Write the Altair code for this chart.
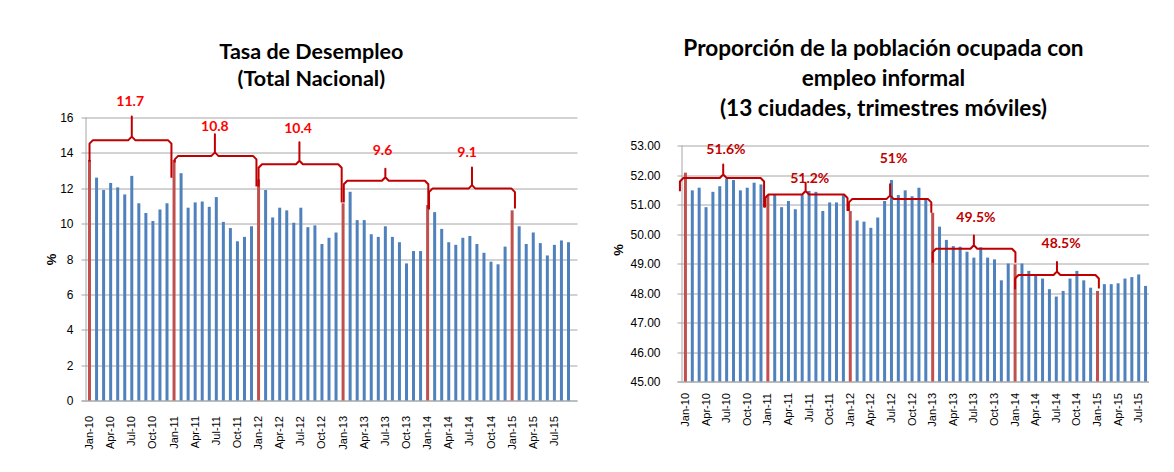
import json
import altair as alt
import pandas as pd

# ---------------- data ----------------
tick_labels = ["Jan-10", "Apr-10", "Jul-10", "Oct-10", "Jan-11", "Apr-11", "Jul-11", "Oct-11",
               "Jan-12", "Apr-12", "Jul-12", "Oct-12", "Jan-13", "Apr-13", "Jul-13", "Oct-13",
               "Jan-14", "Apr-14", "Jul-14", "Oct-14", "Jan-15", "Apr-15", "Jul-15"]

# Tasa de desempleo, monthly Jan-10 .. Sep-15
desempleo = [13.6, 12.6, 11.9, 12.3, 12.05, 11.65, 12.7, 11.15, 10.6, 10.15, 10.8, 11.15,
             13.6, 12.85, 10.9, 11.2, 11.25, 10.95, 11.5, 10.1, 9.75, 9.0, 9.25, 9.85,
             12.5, 11.9, 10.35, 10.9, 10.75, 10.05, 10.9, 9.8, 9.9, 8.85, 9.2, 9.5,
             11.15, 11.8, 10.2, 10.2, 9.4, 9.25, 9.85, 9.25, 8.95, 7.75, 8.45, 8.45,
             11.05, 10.65, 9.7, 8.95, 8.8, 9.2, 9.3, 8.85, 8.35, 7.85, 7.7, 8.7,
             10.75, 9.85, 8.85, 9.5, 8.9, 8.2, 8.8, 9.05, 8.95]

# Proporción informal, monthly (trimestres móviles) Jan-10 .. Aug-15
informal = [52.08, 51.48, 51.57, 50.91, 51.43, 51.62, 51.87, 51.83, 51.48, 51.57, 51.74, 51.68,
            51.32, 51.34, 50.91, 51.12, 50.84, 51.32, 51.46, 51.43, 50.78, 51.07, 51.07, 51.32,
            50.78, 50.46, 50.42, 50.21, 50.56, 51.12, 51.83, 51.32, 51.48, 51.28, 51.57, 51.17,
            50.72, 50.25, 49.80, 49.59, 49.57, 49.40, 49.20, 49.55, 49.20, 49.14, 48.43, 49.00,
            48.97, 49.00, 48.75, 48.58, 48.49, 48.13, 47.88, 48.07, 48.49, 48.75, 48.43, 48.18,
            48.07, 48.30, 48.30, 48.33, 48.49, 48.54, 48.63, 48.24]

# yearly-average braces (left chart)
des_brk_text = ["11.7", "10.8", "10.4", "9.6", "9.1"]
des_brk_x0 = [0.0, 12.1, 24.0, 36.1, 48.2]
des_brk_x1 = [11.63, 23.7, 35.8, 48.1, 60.4]
des_brk_xpeak = [6.0, 17.8, 29.8, 42.0, 54.3]
des_brk_level = [14.72, 13.83, 13.36, 12.42, 11.98]
des_brk_peak = [16.05, 15.05, 14.6, 13.1, 13.18]
des_brk_low0 = [13.5, 13.45, 12.1, 11.2, 10.8]
des_brk_low1 = [12.6, 12.1, 11.2, 10.85, 10.85]
des_lbl_x = [5.77, 17.8, 29.6, 41.6, 53.6]
des_lbl_y = [16.87, 15.49, 15.34, 14.11, 14.02]

# yearly-average braces (right chart)
inf_brk_text = ["51.6%", "51.2%", "51%", "49.5%", "48.5%"]
inf_brk_x0 = [-0.8, 11.6, 23.8, 36.0, 48.0]
inf_brk_x1 = [11.45, 23.6, 35.8, 48.05, 60.2]
inf_brk_xpeak = [5.5, 17.5, 29.8, 42.0, 54.1]
inf_brk_level = [51.9, 51.34, 51.19, 49.5, 48.61]
inf_brk_peak = [52.36, 51.74, 51.69, 49.95, 49.05]
inf_brk_low0 = [51.45, 50.9, 50.78, 49.03, 48.13]
inf_brk_low1 = [50.9, 50.78, 50.72, 49.03, 48.15]
inf_lbl_x = [5.9, 18.1, 30.3, 42.3, 54.7]
inf_lbl_y = [52.85, 51.85, 52.53, 50.55, 49.65]

# ---------------- style ----------------
BLUE = "#4F81BD"
RED = "#C0504D"
BRACE = "#C00000"
GRID = "#A6A6A6"
TITLE_FONT = "Lato, sans-serif"
AXIS_FONT = "Liberation Sans, Arial, sans-serif"


def brace_frame(x0, x1, xp, lvl, pk, lo0, lo1, cx, cy):
    rows = []
    for b in range(len(x0)):
        pts = [(x0[b], lo0[b]), (x0[b], lvl[b] - cy), (x0[b] + cx, lvl[b]),
               (xp[b] - cx, lvl[b]), (xp[b], lvl[b] + cy), (xp[b], pk[b]),
               (xp[b], lvl[b] + cy), (xp[b] + cx, lvl[b]),
               (x1[b] - cx, lvl[b]), (x1[b], lvl[b] - cy), (x1[b], lo1[b])]
        for k, (x, y) in enumerate(pts):
            rows.append({"b": b, "k": k, "x": x, "y": y})
    return pd.DataFrame(rows)


def panel(values, ymin, ytop, ymax, ystep, yfmt, W, H, brk, lbl, lbl_color,
          title_lines, title_size, title_lh, title_offset, lab_pad, title_pad, xlab_pad):
    n = len(values)
    df = pd.DataFrame({"i": list(range(n)), "v": values, "base": [ymin] * n})
    xscale = alt.Scale(domain=[-0.5, n - 0.5], nice=False, zero=False)
    yscale = alt.Scale(domain=[ymin, ymax], nice=False, zero=False)
    step = W / n
    cx = 3.5 / step
    cy = 3.5 / (H / (ymax - ymin))

    xaxis = alt.Axis(values=list(range(0, n, 3)),
                     labelExpr=json.dumps(tick_labels) + "[round(datum.value/3)]",
                     grid=False, ticks=False, tickSize=0, domainColor=GRID, labelAngle=270,
                     labelPadding=xlab_pad, labelFont=AXIS_FONT, labelFontSize=11,
                     labelColor="#000000", labelOverlap=False, labelFlush=False)
    yvals = []
    v = ymin
    while v <= ytop + 1e-9:
        yvals.append(round(v, 6))
        v += ystep
    yaxis = alt.Axis(values=yvals, format=yfmt, grid=True, gridColor=GRID,
                     domain=False, ticks=False, tickSize=0, labelPadding=lab_pad,
                     labelFont=AXIS_FONT, labelFontSize=12, labelColor="#000000",
                     labelFlush=False,
                     titleFont=AXIS_FONT, titleFontSize=13, titleFontWeight="bold",
                     titleColor="#000000", titlePadding=title_pad)

    def X(field):
        return alt.X(field, scale=xscale, axis=xaxis, title=None)

    def Y(field):
        return alt.Y(field, scale=yscale, axis=yaxis, title="%")

    bars = alt.Chart(df).mark_bar(size=3).encode(
        x=X("i:Q"),
        y=Y("v:Q"),
        y2="base:Q",
        color=alt.condition("datum.i % 12 == 0", alt.value(RED), alt.value(BLUE)),
    )
    # left axis line, from the bottom to the top gridline
    axis_line = alt.Chart(pd.DataFrame({"x": [-0.5], "y0": [ymin], "y1": [ytop]})).mark_rule(
        color=GRID, strokeWidth=1).encode(x=X("x:Q"), y=Y("y0:Q"), y2="y1:Q")

    bdf = brace_frame(*brk, cx, cy)
    braces = alt.Chart(bdf).mark_line(color=BRACE, strokeWidth=2, strokeJoin="round").encode(
        x=X("x:Q"),
        y=Y("y:Q"),
        detail="b:N",
        order="k:Q",
    )
    ldf = pd.DataFrame({"t": lbl[0], "x": lbl[1], "y": lbl[2]})
    labels = alt.Chart(ldf).mark_text(fontSize=14, fontWeight="bold", font="Lato",
                                      color=lbl_color).encode(
        x=X("x:Q"),
        y=Y("y:Q"),
        text="t:N",
    )
    return alt.layer(bars, axis_line, braces, labels).properties(
        width=W, height=H,
        title=alt.TitleParams(title_lines, font=TITLE_FONT, fontSize=title_size,
                              fontWeight="bold", color="#000000", lineHeight=title_lh,
                              offset=title_offset, anchor="middle", frame="bounds"),
    )


left = panel(desempleo, 0, 16, 16, 2, "d", 496, 283,
             (des_brk_x0, des_brk_x1, des_brk_xpeak, des_brk_level, des_brk_peak,
              des_brk_low0, des_brk_low1),
             (des_brk_text, des_lbl_x, des_lbl_y), "#FF0000",
             ["Tasa de Desempleo", "(Total Nacional)"], 21.5, 26.5, 5, 8, 1, 15)

right = panel(informal, 45, 53, 53.95, 1, ".2f", 477, 264,
              (inf_brk_x0, inf_brk_x1, inf_brk_xpeak, inf_brk_level, inf_brk_peak,
               inf_brk_low0, inf_brk_low1),
              (inf_brk_text, inf_lbl_x, inf_lbl_y), BRACE,
              ["Proporción de la población ocupada con", "empleo informal",
               "(13 ciudades, trimestres móviles)"], 22.6, 30, -3, 17, 4, 11)

chart = alt.hconcat(left, right, spacing=35).properties(
    padding={"left": 37, "top": 29.5, "right": -5, "bottom": 0}
).configure_view(stroke=None)

chart.save("out.html", embed_options={"renderer": "svg", "actions": False})
